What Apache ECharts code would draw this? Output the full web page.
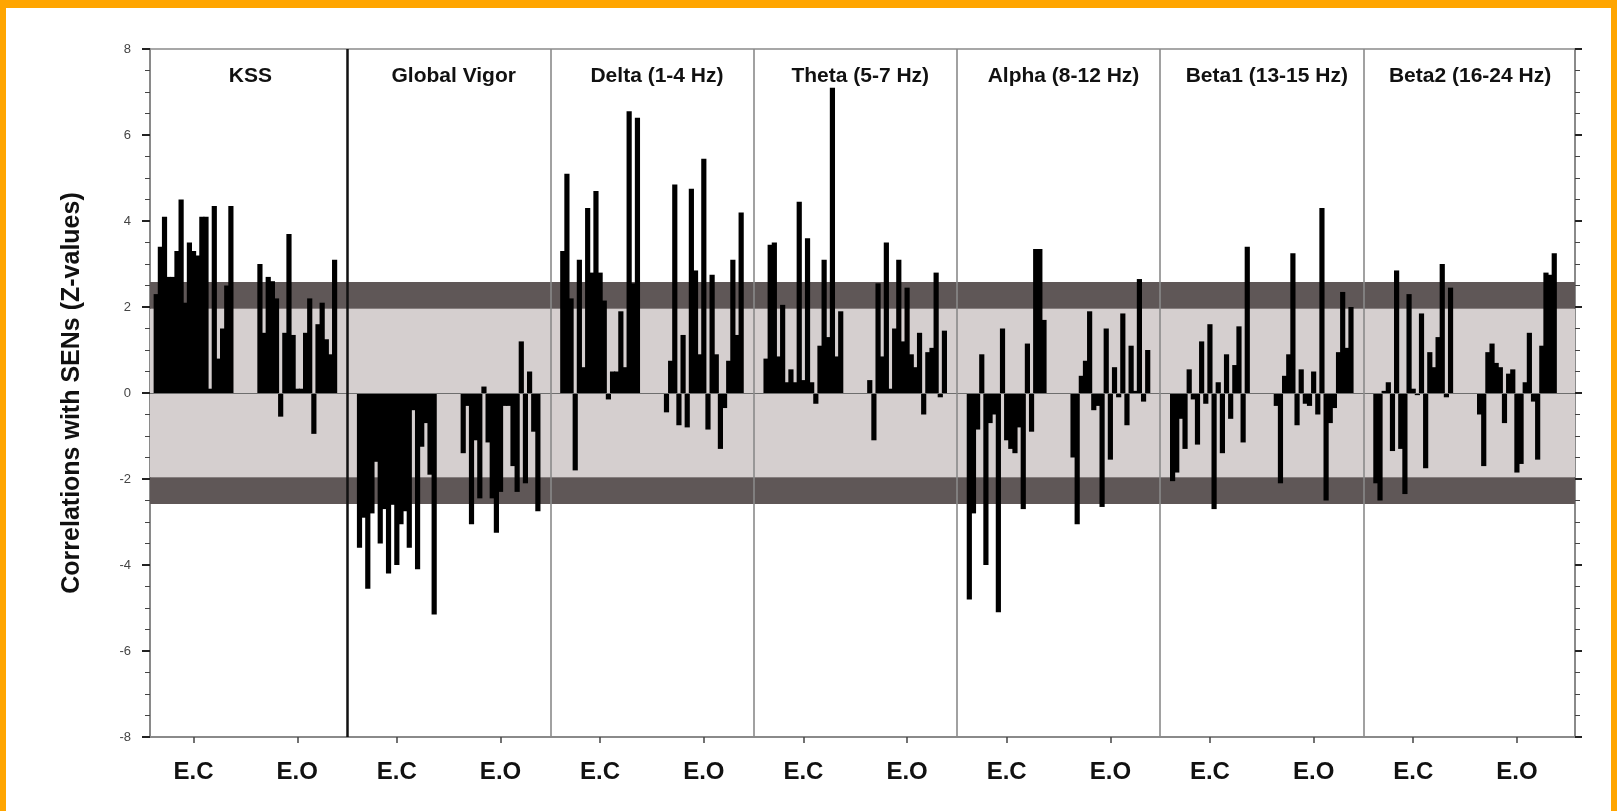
<!DOCTYPE html>
<html>
<head>
<meta charset="utf-8">
<script src="https://cdn.jsdelivr.net/npm/echarts@6/dist/echarts.min.js"></script>
<style>
  html, body { margin: 0; padding: 0; background: #fff; }
  #chart { width: 1617px; height: 811px; }
</style>
</head>
<body>
<div id="chart"></div>
<script>
// panel titles and the two conditions under each panel
const panelNames = ['KSS', 'Global Vigor', 'Delta (1-4 Hz)', 'Theta (5-7 Hz)',
  'Alpha (8-12 Hz)', 'Beta1 (13-15 Hz)', 'Beta2 (16-24 Hz)'];
const condLabels = ['E.C', 'E.O'];

// z-values per channel (19 channels), eyes closed / eyes open
const kssEC = [2.3, 3.4, 4.1, 2.7, 2.7, 3.3, 4.5, 2.1, 3.5, 3.3, 3.2, 4.1, 4.1, 0.1, 4.35, 0.8, 1.5, 2.5, 4.35];
const kssEO = [3.0, 1.4, 2.7, 2.6, 2.2, -0.55, 1.4, 3.7, 1.35, 0.1, 0.1, 1.4, 2.2, -0.95, 1.6, 2.1, 1.25, 0.9, 3.1];
const vigorEC = [-3.6, -2.9, -4.55, -2.8, -1.6, -3.5, -2.7, -4.2, -2.6, -4.0, -3.05, -2.75, -3.6, -0.4, -4.1, -1.25, -0.7, -1.9, -5.15];
const vigorEO = [-1.4, -0.3, -3.05, -1.1, -2.45, 0.15, -1.15, -2.45, -3.25, -2.3, -0.3, -0.3, -1.7, -2.3, 1.2, -2.1, 0.5, -0.9, -2.75];
const deltaEC = [3.3, 5.1, 2.2, -1.8, 3.1, 0.6, 4.3, 2.8, 4.7, 2.8, 2.15, -0.15, 0.5, 0.5, 1.9, 0.6, 6.55, 2.55, 6.4];
const deltaEO = [-0.45, 0.75, 4.85, -0.75, 1.35, -0.8, 4.75, 2.85, 0.9, 5.45, -0.85, 2.75, 0.9, -1.3, -0.35, 0.75, 3.1, 1.35, 4.2];
const thetaEC = [0.8, 3.45, 3.5, 0.85, 2.05, 0.25, 0.55, 0.25, 4.45, 0.3, 3.6, 0.25, -0.25, 1.1, 3.1, 1.3, 7.1, 0.85, 1.9];
const thetaEO = [0.3, -1.1, 2.55, 0.85, 3.5, 0.1, 1.5, 3.1, 1.2, 2.45, 0.9, 0.6, 1.4, -0.5, 0.95, 1.05, 2.8, -0.1, 1.45];
const alphaEC = [-4.8, -2.8, -0.85, 0.9, -4.0, -0.7, -0.5, -5.1, 1.5, -1.1, -1.3, -1.4, -0.8, -2.7, 1.15, -0.9, 3.35, 3.35, 1.7];
const alphaEO = [-1.5, -3.05, 0.4, 0.75, 1.9, -0.4, -0.3, -2.65, 1.5, -1.55, 0.6, -0.1, 1.85, -0.75, 1.1, 0.05, 2.65, -0.2, 1.0];
const beta1EC = [-2.05, -1.85, -0.6, -1.3, 0.55, -0.15, -1.2, 1.2, -0.25, 1.6, -2.7, 0.25, -1.4, 0.9, -0.6, 0.65, 1.55, -1.15, 3.4];
const beta1EO = [-0.3, -2.1, 0.4, 0.9, 3.25, -0.75, 0.55, -0.25, -0.3, 0.5, -0.5, 4.3, -2.5, -0.7, -0.35, 0.95, 2.35, 1.05, 2.0];
const beta2EC = [-2.1, -2.5, 0.05, 0.25, -1.35, 2.85, -1.3, -2.35, 2.3, 0.1, -0.05, 1.85, -1.75, 0.95, 0.6, 1.3, 3.0, -0.1, 2.45];
const beta2EO = [-0.5, -1.7, 0.95, 1.15, 0.7, 0.6, -0.7, 0.45, 0.55, -1.85, -1.65, 0.25, 1.4, -0.2, -1.55, 1.1, 2.8, 2.75, 3.25];

// significance bands (p<.05, p<.01)
const sigBands = [1.96, 2.58];
const yTicks = [-8, -6, -4, -2, 0, 2, 4, 6, 8];

const panelData = [
  [kssEC, kssEO], [vigorEC, vigorEO], [deltaEC, deltaEO], [thetaEC, thetaEO],
  [alphaEC, alphaEO], [beta1EC, beta1EO], [beta2EC, beta2EO]
];

// x layout in "slots": each panel = 49 slots, bars of a group are one slot apart
const panelSlots = 49;
const groupStart = [3, 28];
const xMin = 1.5;
const xMax = 7 * panelSlots + 2;
const barSlots = 1.25;

let bars = [];
let tickVals = [];
panelData.forEach((groups, p) => {
  groups.forEach((vals, g) => {
    vals.forEach((v, i) => bars.push([p * panelSlots + groupStart[g] + i, v]));
    tickVals.push(p * panelSlots + groupStart[g] + (vals.length - 1) / 2);
  });
});

const sepLines = [];
for (let p = 1; p < 7; p++) {
  sepLines.push({
    xAxis: p * panelSlots,
    lineStyle: p === 1 ? { color: '#111', width: 2.5, type: 'solid' } : { color: '#8a8a8a', width: 1.6, type: 'solid' }
  });
}

const font = "'Liberation Sans', Arial, sans-serif";
const chart = echarts.init(document.getElementById('chart'));

const option = {
  animation: false,
  backgroundColor: '#fff',
  grid: {
    left: 150, right: 42, top: 49, bottom: 74,
    show: true, borderColor: '#8a8a8a', borderWidth: 1.5,
    outerBoundsMode: 'none'
  },
  xAxis: {
    type: 'value', min: xMin, max: xMax,
    splitLine: { show: false },
    axisLine: { show: true, onZero: false, lineStyle: { color: '#8a8a8a', width: 2 } },
    axisTick: { show: true, customValues: tickVals, length: 6, lineStyle: { color: '#444', width: 1.5 } },
    axisLabel: {
      customValues: tickVals, margin: 23,
      fontFamily: font, fontWeight: 'bold', fontSize: 24, color: '#111',
      formatter: function (v) {
        const off = v - Math.floor(v / panelSlots) * panelSlots;
        return off < panelSlots / 2 ? condLabels[0] : condLabels[1];
      }
    }
  },
  yAxis: [{
    type: 'value', min: -8, max: 8, interval: 2,
    name: 'Correlations with SENs (Z-values)',
    nameLocation: 'middle', nameGap: 65,
    nameTextStyle: { fontFamily: font, fontWeight: 'bold', fontSize: 25, color: '#111' },
    splitLine: { show: false },
    axisLine: { show: true, lineStyle: { color: '#8a8a8a', width: 2 } },
    axisTick: { show: true, length: 8, lineStyle: { color: '#222', width: 2 } },
    minorTick: { show: true, splitNumber: 4, length: 5, lineStyle: { color: '#444', width: 1 } },
    axisLabel: {
      margin: 19, fontFamily: font, fontSize: 13, color: '#444',
      formatter: v => (yTicks.indexOf(v) >= 0 ? String(v) : '')
    }
  }, {
    type: 'value', min: -8, max: 8, interval: 2, position: 'right',
    splitLine: { show: false },
    axisLine: { show: true, lineStyle: { color: '#8a8a8a', width: 2 } },
    axisTick: { show: true, length: 7, lineStyle: { color: '#222', width: 2 } },
    minorTick: { show: true, splitNumber: 4, length: 5, lineStyle: { color: '#444', width: 1 } },
    axisLabel: { show: false }
  }],
  series: [
    {
      type: 'line', data: [], silent: true, z: 1,
      markArea: {
        silent: true,
        data: [
          [{ yAxis: -sigBands[0], itemStyle: { color: '#d5cfcf' } }, { yAxis: sigBands[0] }],
          [{ yAxis: sigBands[0], itemStyle: { color: '#5f5757' } }, { yAxis: sigBands[1] }],
          [{ yAxis: -sigBands[1], itemStyle: { color: '#5f5757' } }, { yAxis: -sigBands[0] }]
        ]
      }
    },
    {
      type: 'line', data: [], silent: true, z: 2,
      markLine: {
        silent: true, symbol: 'none', animation: false,
        label: { show: false },
        data: [{ yAxis: 0, lineStyle: { color: '#6e6e6e', width: 1.2, type: 'solid' } }].concat(sepLines)
      }
    },
    {
      type: 'custom', z: 3, silent: true,
      data: bars,
      renderItem: function (params, api) {
        const x = api.value(0), v = api.value(1);
        const a = api.coord([x - barSlots / 2, 0]);
        const b = api.coord([x + barSlots / 2, v]);
        return {
          type: 'rect',
          shape: { x: a[0], y: Math.min(a[1], b[1]), width: b[0] - a[0], height: Math.abs(a[1] - b[1]) },
          style: { fill: '#000' }
        };
      }
    }
  ],
  graphic: [
    { type: 'rect', shape: { x: 0, y: 0, width: 1617, height: 8 }, style: { fill: '#ffa500' }, z: 100 },
    { type: 'rect', shape: { x: 0, y: 0, width: 6, height: 811 }, style: { fill: '#ffa500' }, z: 100 },
    { type: 'rect', shape: { x: 1611, y: 0, width: 6, height: 811 }, style: { fill: '#ffa500' }, z: 100 }
  ]
};

chart.setOption(option);

// panel titles centred above each panel
const titles = panelNames.map((name, p) => {
  const cx = chart.convertToPixel({ xAxisIndex: 0 }, p * panelSlots + panelSlots / 2);
  return {
    text: name, left: cx, top: 61, textAlign: 'center',
    textStyle: { fontFamily: font, fontWeight: 'bold', fontSize: 21, color: '#111' }
  };
});
chart.setOption({ title: titles });
</script>
</body>
</html>
